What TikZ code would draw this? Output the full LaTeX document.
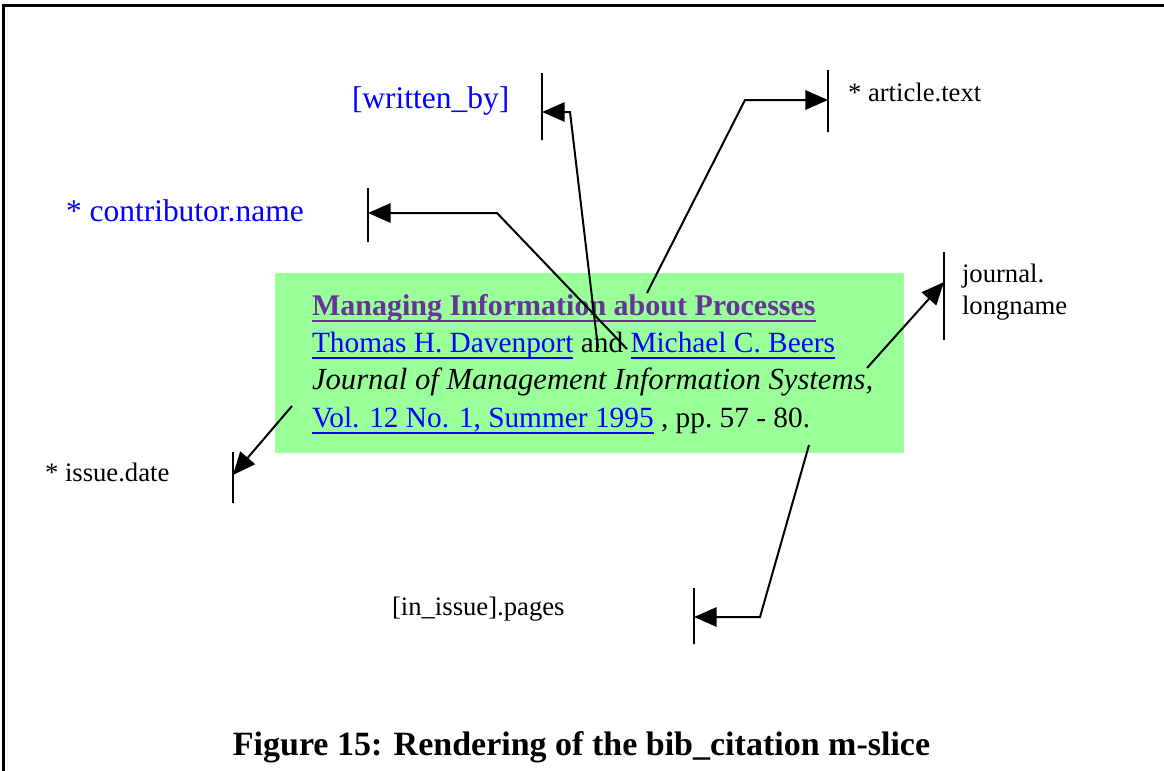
\documentclass[tikz,border=0pt]{standalone}
\usepackage{fontspec}
\setmainfont{Liberation Serif}
\usetikzlibrary{positioning,calc,arrows.meta}

\definecolor{citegreen}{RGB}{153,255,153}
\definecolor{linkblue}{RGB}{0,0,255}
\definecolor{visitedlink}{RGB}{102,51,153}

\newcommand\citefont{\fontsize{22}{26}\selectfont}
\newcommand\linkline[1]{\setbox0\hbox{#1}\rlap{\rule[-5pt]{\wd0}{1.4pt}}\box0}

\begin{document}
\begin{tikzpicture}[x=0.75pt,y=-0.75pt]
    \tikzstyle{every node}=[inner sep=0,outer sep=0]
    \tikzstyle{lbl}=[anchor=base west,font=\fontsize{20}{24}\selectfont]
    \tikzstyle{rolelbl}=[anchor=base west,text=linkblue,font=\fontsize{23.6}{28}\selectfont]
    \tikzstyle{citeline}=[anchor=base west,font=\citefont]
    \tikzset{endbar/.style={draw,rectangle,line width=1.5pt,minimum width=0,minimum height=#1}}
    \tikzstyle{ptr}=[line width=1.5pt,-{Triangle[length=17pt,width=14.5pt]}]

    \useasboundingbox (0,0) rectangle (1164,771);
    % page frame, only top and left edge visible
    \draw[line width=2.25pt] (3.5,771) -- (3.5,5) -- (1164,5);

    % the rendered citation
    \node[fill=citegreen,minimum width=471.75pt,minimum height=135pt,anchor=north west] (citebox) at (275,273) {};
    \node[citeline,text=visitedlink,font=\fontsize{22.5}{26}\selectfont\bfseries] (title) at (312,315) {\linkline{Managing Information about Processes}};
    \node[citeline] (authors) at (312,352) {{\color{linkblue}\linkline{Thomas H. Davenport}} and {\color{linkblue}\linkline{Michael C. Beers}}};
    \node[citeline,font=\fontsize{23}{26}\selectfont\itshape] (journal) at (312,389) {Journal of Management Information Systems,};
    \node[citeline] (volume) at (312,427) {{\color{linkblue}\linkline{Vol. 12 No. 1, Summer 1995}} , pp.\ 57 - 80.};

    % labels
    \node[rolelbl] (writtenby) at (352,108) {[written\_by]};
    \node[rolelbl] (contribname) at (66,221) {* contributor.name};
    \node[lbl] (arttext) at (848,101.5) {* article.text};
    \node[lbl] (jlname) at (962,282) {journal.};
    \node[lbl] (jlname2) at (962,314) {longname};
    \node[lbl] (issuedate) at (45,481) {* issue.date};
    \node[lbl] (pages) at (392,615) {[in\_issue].pages};

    % bars
    \node[endbar=50.25pt] (wbBar) at (542,106.5) {};
    \node[endbar=40.5pt] (cnBar) at (368,215) {};
    \node[endbar=46.5pt] (atBar) at (828,101) {};
    \node[endbar=66pt] (jlBar) at (944,296) {};
    \node[endbar=38.25pt] (idBar) at (233,477.5) {};
    \node[endbar=42pt] (pgBar) at (694,616) {};

    \coordinate (wbFrom) at (598,348);
    \coordinate (wbBend) at (570,112);
    \coordinate (cnFrom) at (627,349);
    \coordinate (cnBend) at (497,213);
    \coordinate (atFrom) at (647,293);
    \coordinate (atBend) at (745,100);
    \coordinate (jlFrom) at (867,368);
    \coordinate (idFrom) at (292,406);
    \coordinate (pgFrom) at (809,445);
    \coordinate (pgBend) at (760,617);

    \draw[ptr] (wbFrom) -- (wbBend) -- (wbBend -| wbBar.west);
    \draw[ptr] (cnFrom) -- (cnBend) -- (cnBend -| cnBar.east);
    \draw[ptr] (atFrom) -- (atBend) -- (atBend -| atBar.west);
    \draw[ptr] (pgFrom) -- (pgBend) -- (pgBend -| pgBar.east);
    \path[ptr]
        (jlFrom) edge ($(jlBar.west)+(0,-14)$)
        (idFrom) edge ($(idBar.east)+(0,-2.5)$);

    % caption
    \node[anchor=base,font=\fontsize{25.5}{30}\selectfont\bfseries] (caption) at (581.5,755) {Figure 15: Rendering of the bib\_citation m-slice};
\end{tikzpicture}
\end{document}
